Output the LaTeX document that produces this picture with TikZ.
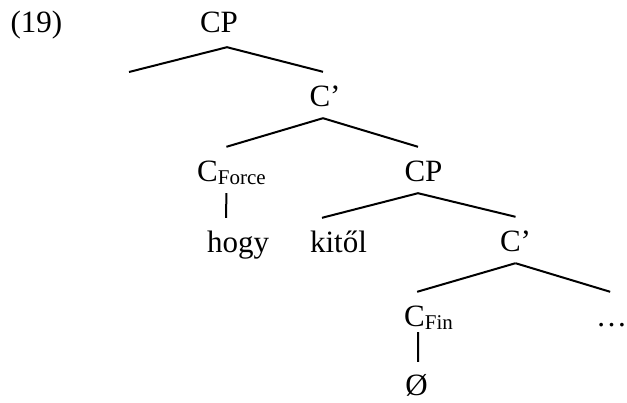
\documentclass[tikz,border=0pt]{standalone}
\usepackage{fontspec}
\setmainfont{Liberation Serif}
\newcommand{\lowsub}[1]{\raisebox{-3pt}{\fontsize{21}{21}\selectfont #1}}
\tikzset{
	lbl/.style={inner xsep=0pt,inner ysep=11pt,text height=24pt,text depth=0pt,anchor=base,font=\fontsize{31}{36}\selectfont},
	branch/.style={line width=2pt}
}

\begin{document}
\begin{tikzpicture}[x=1pt,y=-1pt]
			\useasboundingbox (0,0) rectangle (627,403);

			\node[lbl] 						(ex) 	at (36.5,33) 	{(19)};
			\node[lbl] 						(cp1) 	at (219,33) 	{CP};
			\coordinate 						(spec1) at (129,72);
			\node[lbl] 						(cbar1) at (325,107) 	{C’};
			\node[lbl,anchor=base west] 	(cforce) at (197,182) 	{C\lowsub{Force}};
			\node[lbl] 						(cp2) 	at (423.5,182) 	{CP};
			\node[lbl] 						(hogy) 	at (238,253) 	{hogy};
			\node[lbl] 						(kitol) at (338.5,253) 	{kitől};
			\node[lbl] 						(cbar2) at (515.5,252) 	{C’};
			\node[lbl,anchor=base west] 	(cfin) 	at (404,327) 	{C\lowsub{Fin}};
			\node[lbl,anchor=base west] 	(dots) 	at (596,327) 	{…};
			\node[lbl] 						(null) 	at (416.5,396) 	{Ø};

			\draw[branch]	([xshift=8pt,yshift=-3pt]cp1.south) 	-- (spec1);
			\draw[branch]	([xshift=8pt,yshift=-3pt]cp1.south) 	-- ([xshift=-2pt]cbar1.north);
			\draw[branch]	([xshift=-2pt]cbar1.south) 				-- ([xshift=-5pt]cforce.north);
			\draw[branch]	([xshift=-2pt]cbar1.south) 				-- ([xshift=-5.5pt]cp2.north);
			\draw[branch]	([xshift=-5pt]cforce.south) 			-- ([xshift=-12pt]hogy.north);
			\draw[branch]	([xshift=-5.5pt]cp2.south) 				-- ([xshift=-16.5pt]kitol.north);
			\draw[branch]	([xshift=-5.5pt]cp2.south) 				-- (cbar2.north);
			\draw[branch]	(cbar2.south) 							-- ([xshift=-11.4pt]cfin.north);
			\draw[branch]	(cbar2.south) 							-- ([xshift=-1.5pt]dots.north);
			\draw[branch]	([xshift=-10.4pt,yshift=6pt]cfin.south) -- ([xshift=1.5pt,yshift=-1pt]null.north);
		\end{tikzpicture}
\end{document}
